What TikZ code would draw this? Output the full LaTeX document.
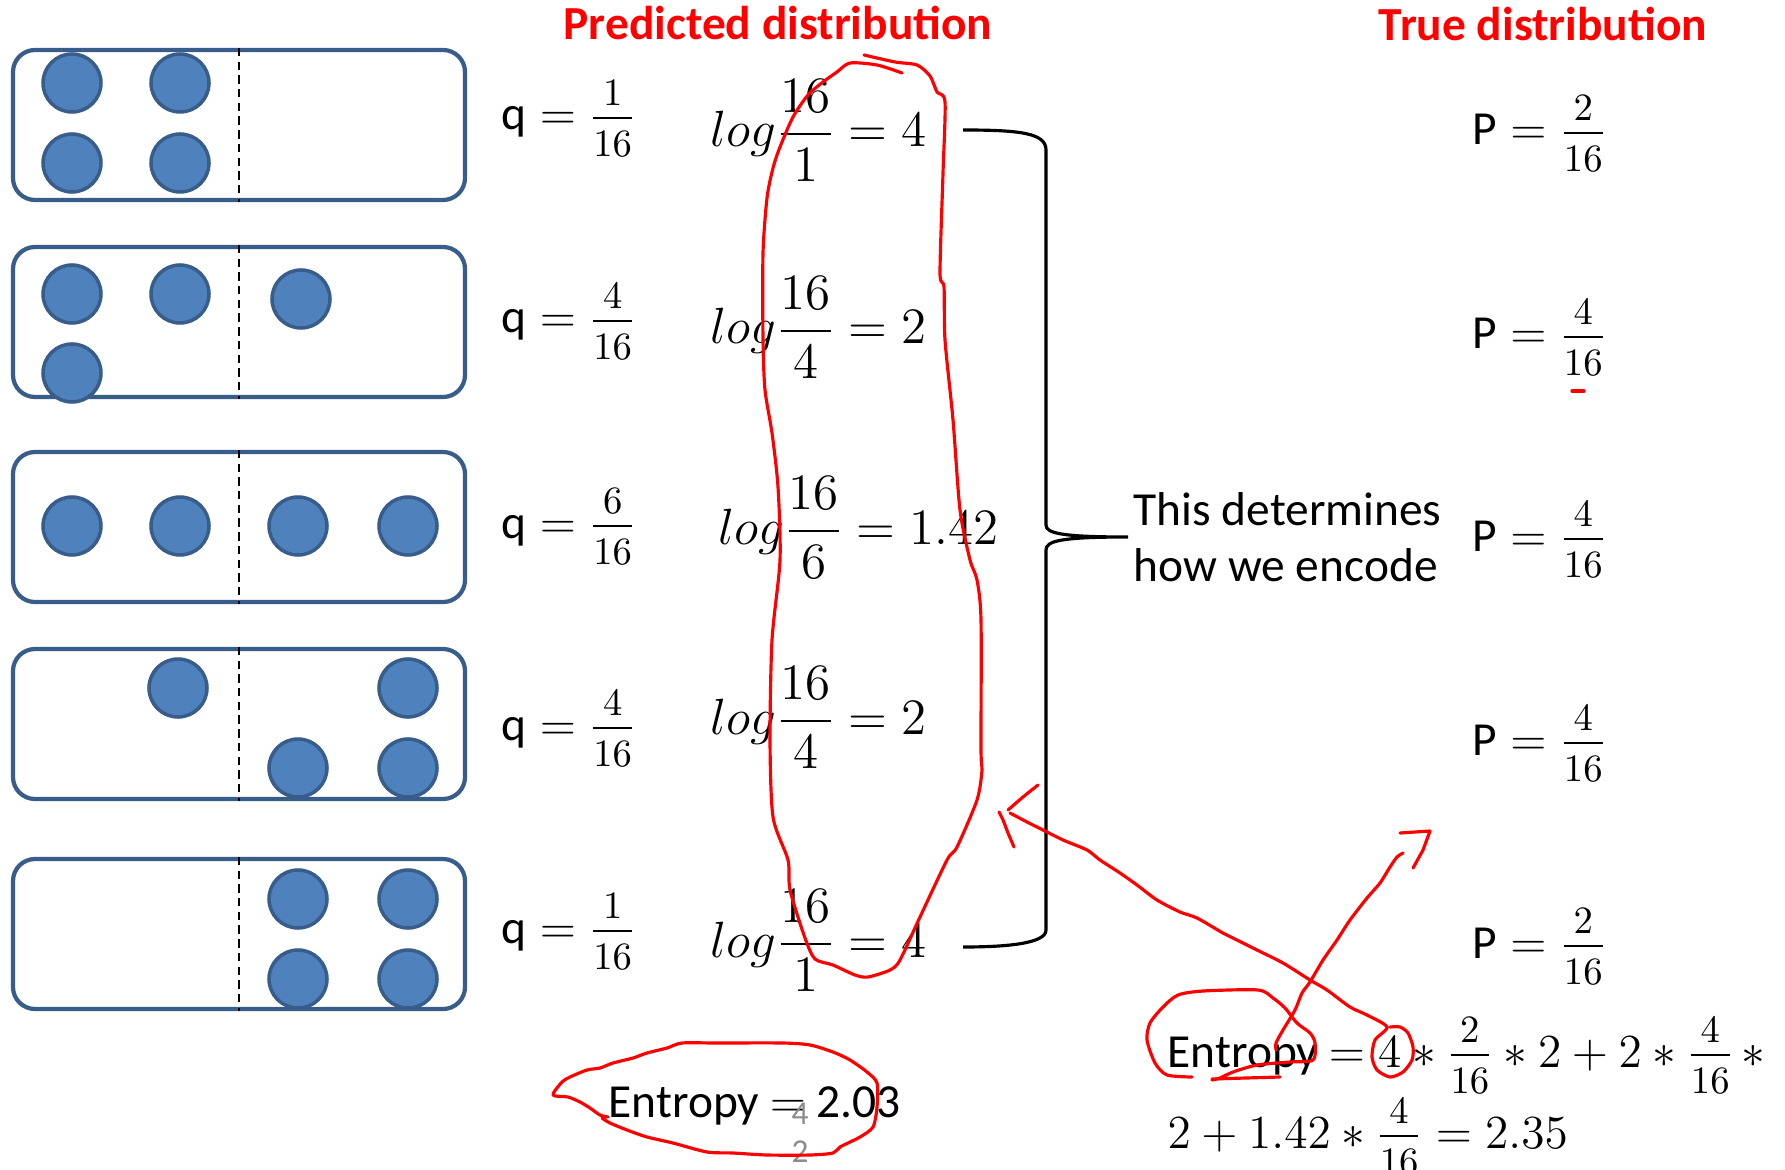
\documentclass[tikz,border=0pt]{standalone}
\usepackage{fix-cm}
\usepackage{amsmath}
\usepackage[no-math]{fontspec}
\setmainfont{Carlito}
\usepackage{tikz}
\definecolor{ballfill}{HTML}{4F81BD}
\definecolor{ballline}{HTML}{385D8A}
\definecolor{ghost}{HTML}{8C8C8C}

% small fraction, 11pt digits set a little apart from the bar
\newcommand{\qfrac}[2]{\frac{\raisebox{1.7pt}{\fontsize{11}{13}\selectfont$#1$}}%
                            {\raisebox{-2.8pt}{\fontsize{11}{13}\selectfont$#2$}}}

\tikzset{
  slot/.style={draw=ballline, line width=1.2pt, rounded corners=0.22cm,
               minimum width=4.52cm, minimum height=1.5cm, inner sep=0pt},
  ball/.style={circle, draw=ballline, fill=ballfill, line width=1pt,
               minimum size=0.58cm, inner sep=0pt},
  split/.style={line width=0.7pt, dash pattern=on 2.4pt off 1.5pt},
  lbl/.style={anchor=base west, inner sep=0pt},
  big/.style={font=\fontsize{14.5}{17}\selectfont},
  title/.style={anchor=base, inner sep=0pt, text=red,
                font=\fontsize{13.5}{16}\selectfont\bfseries},
  ink/.style={red, line width=0.9pt, line cap=round, line join=round}
}

\begin{document}
\begin{tikzpicture}[x=1cm, y=-1cm, font=\fontsize{13.5}{16}\selectfont]
  \useasboundingbox (0,0) rectangle (17.85,11.70);

  \node[title] (pred) at (7.78,0.40) {Predicted distribution};
  \node[title] (true) at (15.43,0.41) {True distribution};

  % the five boxes, each split in two halves
  \foreach \i/\y in {1/1.25, 2/3.22, 3/5.27, 4/7.24, 5/9.34} {
    \node[slot] (box\i) at (2.39,\y) {};
    \draw[split] (box\i.north) -- (box\i.south);
  }
  \foreach \x/\y [count=\k] in {0.72/0.83, 1.80/0.83, 0.72/1.63, 1.80/1.63,
      0.72/2.94, 1.80/2.94, 3.01/2.99, 0.72/3.73,
      0.72/5.26, 1.80/5.26, 2.98/5.26, 4.08/5.26,
      1.78/6.88, 4.08/6.88, 2.98/7.68, 4.08/7.68,
      2.98/8.99, 4.08/8.99, 2.98/9.79, 4.08/9.79}
    \node[ball] (ball\k) at (\x,\y) {};

  % predicted q and code lengths
  \foreach \i/\y/\n in {1/1.30/1, 2/3.33/4, 3/5.38/6, 4/7.40/4, 5/9.43/1}
    \node[lbl] (q\i) at (5.01,\y) {$\text{q} = \qfrac{\n}{16}$};
  \foreach \i/\x/\y/\d/\v in {1/7.10/1.47/1/4, 2/7.10/3.44/4/2, 3/7.18/5.44/6/1.42,
                              4/7.10/7.34/4/2, 5/7.10/9.57/1/4}
    \node[lbl, big] (log\i) at (\x,\y) {$log\dfrac{16}{\d} = \v$};

  % true P
  \foreach \i/\y/\n in {1/1.45/2, 2/3.49/4, 3/5.51/4, 4/7.55/4, 5/9.58/2}
    \node[lbl] (p\i) at (14.72,\y) {$\text{P} = \qfrac{\n}{16}$};

  % brace over the code lengths
  \coordinate (tip) at (11.28,5.37);
  \draw[line width=0.9pt]
    (9.63,1.30) .. controls (10.20,1.30) and (10.46,1.33) .. (10.46,1.50)
    -- (10.46,5.25) .. controls (10.46,5.33) and (10.60,5.37) .. (tip)
    .. controls (10.60,5.37) and (10.46,5.41) .. (10.46,5.50)
    -- (10.46,9.30) .. controls (10.46,9.43) and (10.10,9.47) .. (9.63,9.47);
  \node[anchor=west, align=left, inner sep=1.4pt, font=\fontsize{13.5}{15.9}\selectfont]
    (note) at (tip) {This determines\\how we encode};

  % entropies
  \node[lbl] (hq) at (6.08,11.17) {Entropy $=$ 2.03};
  \node[text=ghost, font=\fontsize{9.5}{11}\selectfont, inner sep=0pt] (g4) at (8.00,11.14) {4};
  \node[text=ghost, font=\fontsize{9.5}{11}\selectfont, inner sep=0pt] (g2) at (8.00,11.52) {2};
  \node[lbl] (hp1) at (11.67,10.67)
    {Entropy $= 4 \ast \qfrac{2}{16} \ast 2 + 2 \ast \qfrac{4}{16} \,\ast$};
  \node[lbl] (hp2) at (11.67,11.48) {$2 + 1.42 \ast \qfrac{4}{16} = 2.35$};

  % pen marks
  \draw[ink] plot[smooth, tension=0.45] coordinates {
    (8.64,0.55) (8.95,0.62) (9.17,0.65) (9.30,0.76) (9.37,0.92) (9.45,1.02)
    (9.43,1.73) (9.40,2.73) (9.44,2.87) (9.45,3.40) (9.53,4.20) (9.60,5.10)
    (9.70,5.60) (9.77,5.80) (9.81,6.20) (9.81,7.50) (9.82,7.70) (9.77,8.00)
    (9.57,8.47) (9.47,8.60) (9.20,9.17) (9.00,9.60) (8.90,9.70) (8.68,9.77)
    (8.55,9.75) (8.33,9.65) (8.15,9.59) (8.05,9.38) (7.90,8.90) (7.88,8.60)
    (7.73,8.17) (7.70,7.40) (7.72,6.40) (7.80,5.60) (7.78,4.87) (7.72,4.33)
    (7.65,3.90) (7.63,3.40) (7.63,2.53) (7.67,1.98) (7.73,1.68) (7.80,1.47)
    (7.93,1.17) (8.08,0.95) (8.23,0.82) (8.37,0.72) (8.50,0.63) (8.77,0.65)
    (9.02,0.73)};
  \draw[ink] (15.72,3.91) -- (15.84,3.91);

  \draw[ink] plot[smooth, tension=0.45] coordinates {
    (6.08,11.17) (6.00,11.15) (5.90,11.08) (5.80,11.02) (5.68,10.97) (5.53,10.95)
    (5.62,10.82) (5.70,10.77) (5.87,10.70) (6.00,10.68) (6.13,10.63) (6.33,10.58)
    (6.47,10.53) (6.67,10.48) (6.82,10.43) (7.17,10.43) (7.83,10.43) (8.10,10.45)
    (8.33,10.52) (8.50,10.60) (8.67,10.72) (8.77,10.83) (8.77,11.07) (8.73,11.27)
    (8.60,11.37) (8.40,11.47) (8.33,11.53) (8.10,11.55) (7.67,11.55) (7.33,11.53)
    (7.07,11.52) (6.73,11.43) (6.47,11.37) (6.27,11.30) (6.10,11.23) (6.02,11.18)};

  \draw[ink] plot[smooth, tension=0.45] coordinates {
    (11.92,10.77) (11.67,10.75) (11.55,10.63) (11.47,10.40) (11.50,10.23)
    (11.63,10.07) (11.78,9.95) (12.03,9.91) (12.58,9.90) (12.73,9.98)
    (12.85,10.08) (12.97,10.23) (13.10,10.33) (13.15,10.43) (13.13,10.60)
    (12.90,10.62) (12.57,10.65) (12.33,10.72) (12.20,10.78) (12.12,10.80)};
  \draw[ink] (12.12,10.79) -- (12.80,10.77);

  % arrow back to the code lengths, ending round the 4
  \draw[ink] plot[smooth, tension=0.45] coordinates {
    (10.10,8.13) (10.27,8.22) (10.43,8.30) (10.63,8.40) (10.87,8.50) (11.00,8.60)
    (11.20,8.73) (11.37,8.85) (11.57,9.00) (11.80,9.12) (11.97,9.18) (12.23,9.33)
    (12.43,9.43) (12.57,9.50) (12.83,9.63) (13.10,9.80) (13.27,9.90) (13.50,10.07)
    (13.67,10.15) (13.87,10.27) (13.75,10.40) (13.72,10.57) (13.77,10.70)
    (13.90,10.77) (14.03,10.72) (14.12,10.60) (14.13,10.47) (14.08,10.33)
    (14.00,10.27) (13.90,10.27)};
  \draw[ink] plot[smooth] coordinates {(10.08,8.10) (10.23,7.97) (10.38,7.85)};
  \draw[ink] plot[smooth] coordinates {(9.99,8.12) (10.03,8.20) (10.08,8.33) (10.14,8.47)};

  % arrow up to the true distribution
  \draw[ink] plot[smooth, tension=0.45] coordinates {
    (12.76,10.50) (12.76,10.43) (12.83,10.30) (12.95,10.10) (13.02,9.93)
    (13.10,9.82) (13.23,9.60) (13.37,9.40) (13.50,9.20) (13.67,8.98)
    (13.80,8.83) (13.90,8.67) (13.97,8.57) (14.03,8.53)};
  \draw[ink] (14.00,8.33) -- (14.30,8.31) -- (14.23,8.50) -- (14.13,8.68);
\end{tikzpicture}
\end{document}
